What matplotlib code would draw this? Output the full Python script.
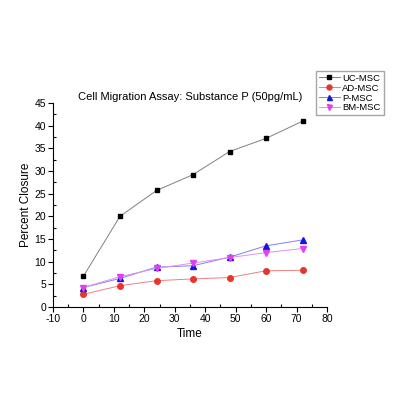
import numpy as np
import matplotlib.pyplot as plt
from matplotlib.ticker import MultipleLocator

plt.rcParams['font.family'] = ['Liberation Sans', 'DejaVu Sans']
plt.rcParams['axes.unicode_minus'] = False

time = [0, 12, 24, 36, 48, 60, 72]
uc_msc = [6.8, 20.0, 25.7, 29.2, 34.3, 37.2, 41.0]
ad_msc = [2.8, 4.7, 5.8, 6.2, 6.5, 8.0, 8.1]
p_msc = [4.3, 6.3, 8.8, 9.1, 11.0, 13.5, 14.8]
bm_msc = [4.3, 6.7, 8.5, 9.7, 10.9, 12.0, 12.9]

fig = plt.figure(figsize=(4, 4), dpi=100)
fig.patch.set_facecolor('white')
axe = fig.add_axes([0.1325, 0.2325, 0.685, 0.51])

axe.plot(time, uc_msc, '-', color='#808080', lw=0.7, marker='s', ms=3.5,
         mfc='black', mec='black', label='UC-MSC')
axe.plot(time, ad_msc, '-', color='#f08080', lw=0.7, marker='o', ms=4,
         mfc='#e8352c', mec='#e8352c', label='AD-MSC')
axe.plot(time, p_msc, '-', color='#8080f0', lw=0.7, marker='^', ms=4,
         mfc='#1515e0', mec='#1515e0', label='P-MSC')
axe.plot(time, bm_msc, '-', color='#e090f0', lw=0.7, marker='v', ms=4,
         mfc='#e040f0', mec='#e040f0', label='BM-MSC')

axe.set_xlim(-10, 80)
axe.set_ylim(0, 45)
axe.xaxis.set_major_locator(MultipleLocator(10))
axe.xaxis.set_minor_locator(MultipleLocator(5))
axe.yaxis.set_major_locator(MultipleLocator(5))
axe.yaxis.set_minor_locator(MultipleLocator(2.5))
axe.spines['top'].set_visible(False)
axe.spines['right'].set_visible(False)
axe.tick_params(which='major', direction='out', length=3.5, width=0.8, labelsize=7.5, pad=1.5)
axe.tick_params(which='minor', direction='in', length=2, width=0.8)

axe.set_xlabel('Time', fontsize=8.5, labelpad=3)
axe.set_ylabel('Percent Closure', fontsize=8.5, labelpad=2)
axe.set_title('Cell Migration Assay: Substance P (50pg/mL)', fontsize=8, pad=2)

fig.legend(loc='upper left', bbox_to_anchor=(0.79, 0.823), fontsize=6.8,
           frameon=True, fancybox=False, edgecolor='#909090', borderpad=0.3,
           labelspacing=0.1, handlelength=2.2, handletextpad=0.3, borderaxespad=0,
           markerscale=0.9)

plt.savefig('out.png', dpi=100)
